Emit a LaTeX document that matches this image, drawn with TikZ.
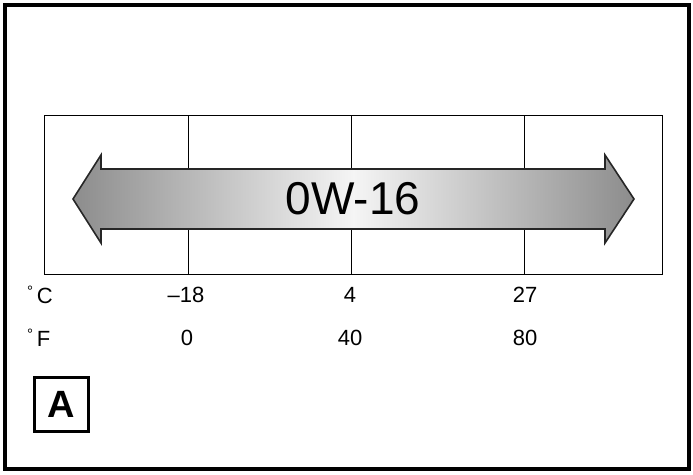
\documentclass[tikz,border=0pt]{standalone}
\usepackage{fontspec}
\setmainfont{Liberation Sans}

\begin{document}
\begin{tikzpicture}[x=1pt, y=-1pt,
    lbl/.style={font=\fontsize{22}{22}\selectfont, inner sep=0pt},
    grid/.style={line width=0.9pt},
    band/.style={draw=black!85, line width=1.6pt, line join=miter, left color=black!45, right color=black!45, middle color=black!4}
  ]
    \useasboundingbox (0,0) rectangle (693,474);
    \draw[line width=3.5pt] (5,5) rectangle (689,469);

    % scale box
    \draw[grid] (44,115) rectangle (662,274);
    \draw[grid] (188,115) -- (188,274);
    \draw[grid] (351,115) -- (351,274);
    \draw[grid] (524,115) -- (524,274);

    % viscosity band
    \draw[band] (73,199) -- (101,155) -- (101,169) -- (605,169) -- (605,155) -- (634,199)
      -- (605,243) -- (605,229) -- (101,229) -- (101,243) -- cycle;
    \node[font=\fontsize{46}{46}\selectfont, inner sep=0pt] (grade) at (353,199) {0W-16};

    % temperatures
    \node[lbl, anchor=base west] (cdeg) at (27,303) {\raisebox{7pt}{\fontsize{15}{15}\selectfont °}\,C};
    \node[lbl, anchor=base west] (fdeg) at (27,346) {\raisebox{7pt}{\fontsize{15}{15}\selectfont °}\,F};
    \node[lbl] (c18) at (186,295) {–18};
    \node[lbl] (c4) at (350,295) {4};
    \node[lbl] (c27) at (525,295) {27};
    \node[lbl] (f0) at (187,338) {0};
    \node[lbl] (f40) at (350,338) {40};
    \node[lbl] (f80) at (525,338) {80};

    \node[draw, line width=3pt, minimum size=54pt, inner sep=0pt, font=\fontsize{38}{38}\selectfont\bfseries] (tag) at (61,404) {A};
  \end{tikzpicture}
\end{document}
